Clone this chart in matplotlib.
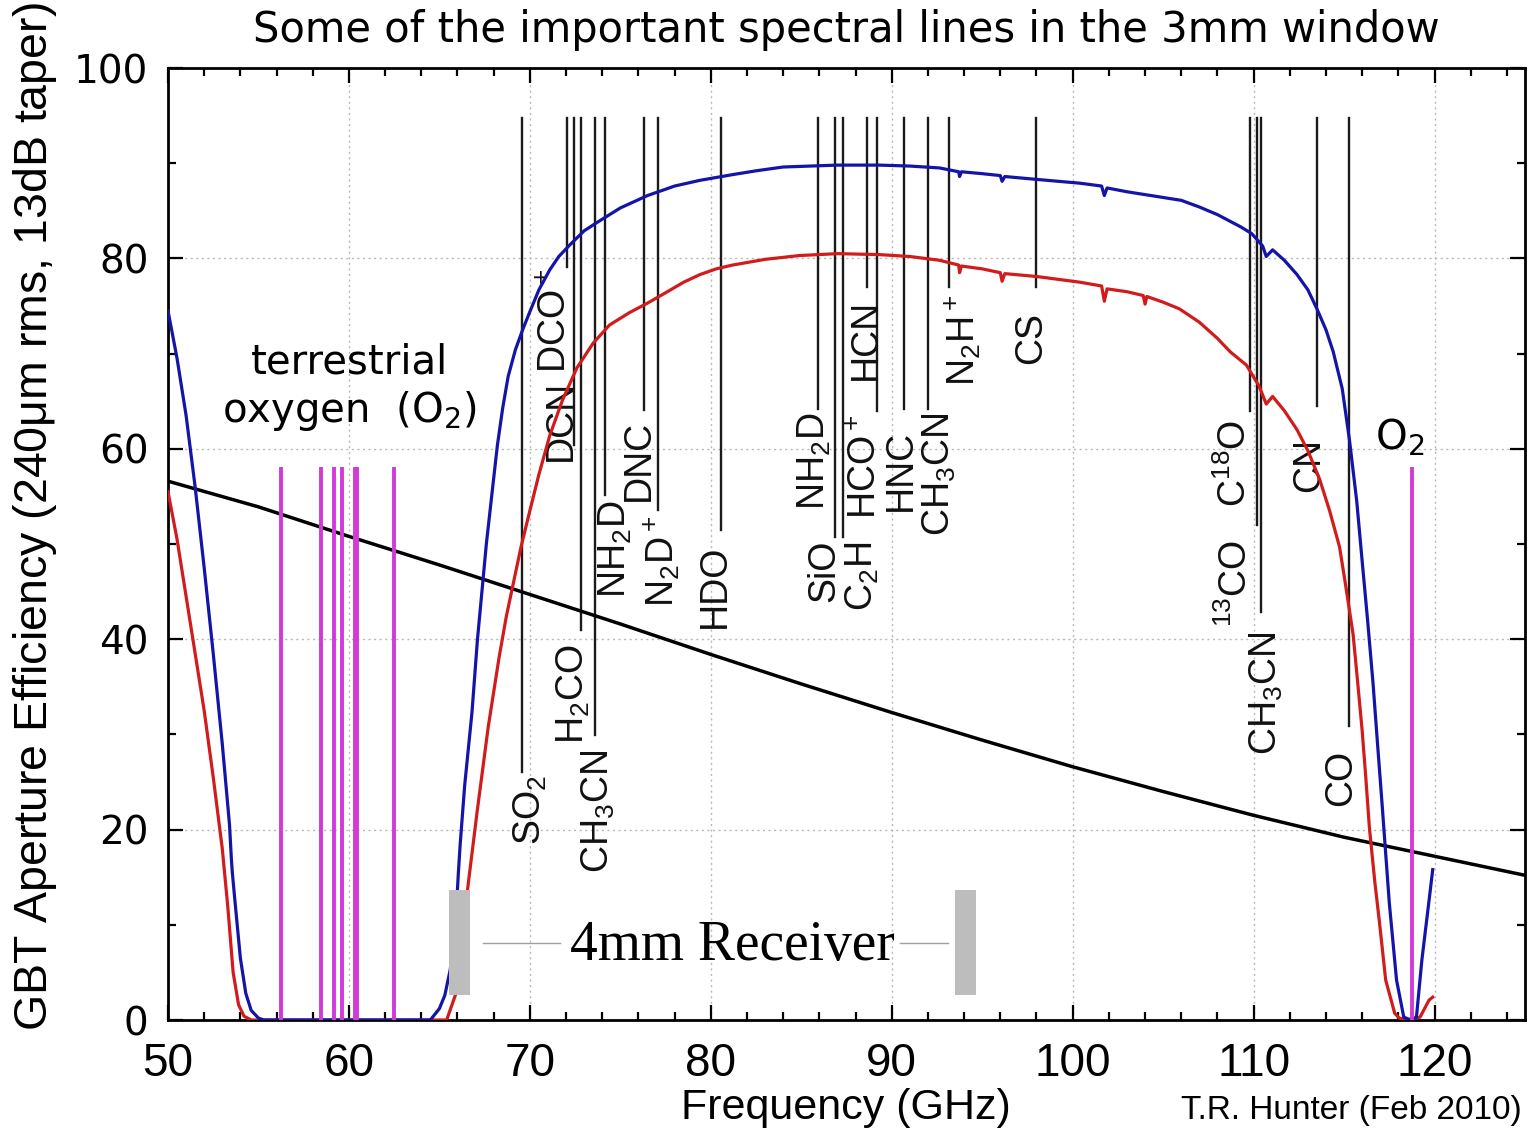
import matplotlib
matplotlib.use("Agg")
import matplotlib.pyplot as plt
from matplotlib.ticker import MultipleLocator
from matplotlib.patches import Rectangle

plt.rcParams["mathtext.default"] = "regular"

# ---------------- data ----------------
# aperture efficiency, blue curve (GHz, %)
blue_freq = [50.0, 50.5, 51.0, 51.5, 52.0, 52.5, 53.0, 53.4, 53.5, 53.55,
             53.7, 54.0, 54.3, 54.6, 55.0, 55.3, 64.5, 65.0, 65.3, 65.6,
             65.9, 66.05, 66.1, 66.15, 66.4, 66.8, 67.1, 67.6, 68.2, 68.5,
             68.8, 69.2, 69.6,
             70.0, 70.5, 71.1, 71.6, 72.2, 73.0, 73.9, 75.0, 76.5, 78.0, 79.4,
             81.2, 82.5, 84.0, 87.0, 89.3,
             91.0, 92.65, 93.7, 93.75, 93.85, 95.0, 96.0, 96.1, 96.25, 98.0,
             100.4, 101.6, 101.75, 101.9, 103.0, 104.0, 105.0, 106.0, 107.0,
             108.0, 108.7, 109.3, 109.9, 110.5, 110.7, 111.05, 111.7, 112.4,
             113.0, 113.5, 114.0, 114.4, 114.9, 115.3, 115.7, 116.0, 116.3,
             116.6, 116.85, 117.1, 117.5, 117.9, 118.3, 118.7, 119.0, 119.3,
             119.7, 119.9]
blue_eff = [74.5, 69.5, 63.5, 56.0, 47.5, 38.5, 29.0, 20.5, 17.0, 15.6,
            12.5, 6.5, 2.8, 1.0, 0.2, 0.0, 0.0, 1.2, 2.6, 5.3,
            10.4, 15.5, 17.0, 18.5, 24.7, 32.3, 39.9, 50.1, 60.3, 64.3,
            67.6, 70.4, 72.5,
            74.4, 76.7, 78.8, 80.2, 81.4, 82.9, 84.0, 85.3, 86.6, 87.6, 88.2,
            88.8, 89.2, 89.6, 89.8, 89.8,
            89.7, 89.5, 89.1, 88.6, 89.1, 88.9, 88.7, 88.1, 88.6, 88.3,
            87.9, 87.6, 86.6, 87.4, 87.0, 86.7, 86.4, 86.1, 85.4,
            84.6, 83.9, 83.3, 82.6, 81.3, 80.2, 80.9, 79.8, 78.3,
            76.7, 74.7, 72.5, 70.2, 66.3, 60.9, 54.5, 48.2, 42.0,
            35.4, 29.0, 22.7, 12.3, 4.2, 0.3, 0.0, 0.3, 6.3,
            12.6, 15.8]

# aperture efficiency, red curve (GHz, %)
red_freq = [50.0, 50.5, 51.0, 51.5, 52.0, 52.5, 53.0, 53.3, 53.6, 53.9,
            54.2, 54.6, 65.4, 65.9, 66.2, 66.6, 67.1, 67.7, 68.3, 68.7, 69.1,
            69.5, 70.0, 70.5, 71.1, 71.8, 72.6, 73.5, 74.4, 75.5, 76.5, 77.6,
            78.5, 79.4, 80.3, 81.2, 83.0, 84.9, 87.0, 89.3,
            91.0, 92.65, 93.7, 93.75, 93.85, 95.0, 96.0, 96.1, 96.25, 98.0,
            100.4, 101.6, 101.75, 101.9, 103.0, 103.9, 104.0, 104.1, 105.0,
            105.9, 107.0, 108.0, 108.7, 109.6, 110.3, 110.7, 111.05, 111.7,
            112.4, 113.0, 113.65, 114.2, 114.75, 115.1, 115.5, 115.75, 116.0,
            116.2, 116.4, 116.7, 116.96, 117.3, 117.8, 118.05, 118.5, 119.2,
            119.7, 119.9]
red_eff = [55.5, 50.5, 44.5, 38.5, 32.5, 25.5, 18.0, 12.0, 5.0, 1.6,
           0.4, 0.0, 0.0, 2.7, 7.8, 14.4, 22.1, 30.8, 38.1, 42.4, 46.0,
           49.6, 53.5, 57.3, 61.4, 65.1, 68.5, 71.1, 73.0, 74.3, 75.3, 76.5,
           77.5, 78.3, 78.9, 79.3, 79.9, 80.3, 80.5, 80.4,
           80.2, 79.8, 79.3, 78.5, 79.2, 78.9, 78.5, 77.6, 78.4, 78.1,
           77.5, 77.1, 75.5, 76.8, 76.5, 76.1, 75.2, 76.0, 75.4,
           74.7, 73.3, 71.6, 70.2, 68.8, 66.6, 64.7, 65.5, 64.0,
           62.0, 59.8, 56.8, 53.5, 49.7, 45.5, 40.5, 35.5, 30.4,
           25.5, 20.2, 14.5, 10.2, 4.2, 0.7, 0.2, 0.0, 0.3,
           2.1, 2.4]

# black efficiency curve (GHz, %)
black_freq = [50, 55, 60, 65, 70, 75, 80, 85, 90, 95, 100, 105, 110, 115, 120, 125]
black_eff = [56.6, 53.9, 50.8, 47.8, 44.7, 41.6, 38.4, 35.3, 32.3, 29.4, 26.6,
             24.0, 21.5, 19.2, 17.2, 15.2]

# molecular lines
line_names = ["SO$_2$", "DCO$^+$", "DCN", "H$_2$CO", "CH$_3$CN", "NH$_2$D",
              "DNC", "N$_2$D$^+$", "HDO", "NH$_2$D", "SiO", "C$_2$H", "HCN",
              "HCO$^+$", "HNC", "CH$_3$CN", "N$_2$H$^+$", "CS", "C$^{18}$O",
              "$^{13}$CO", "CH$_3$CN", "CN", "CO"]
line_freqs = [69.576, 72.039, 72.415, 72.838, 73.590, 74.155, 76.306, 77.109,
              80.578, 85.926, 86.847, 87.317, 88.632, 89.189, 90.664, 91.987,
              93.174, 97.981, 109.782, 110.201, 110.383, 113.491, 115.271]

# oxygen lines
o2_freqs = [56.26, 58.45, 59.16, 59.59, 60.31, 60.43, 62.49, 118.75]

# 4mm receiver band edges
rx_band = [65.52, 93.48]

# axis ticks
x_major = [50, 60, 70, 80, 90, 100, 110, 120]
y_major = [0, 20, 40, 60, 80, 100]

# ---------------- layout (positions of annotations) ----------------
line_top = 94.7
line_end = [26.1, 79.1, 60.4, 41.0, 29.9, 55.1, 64.1, 53.6, 51.5, 64.2, 50.7,
            50.7, 77.0, 64.0, 64.2, 64.2, 77.0, 77.0, 64.0, 52.0, 42.9, 64.5,
            30.9]
label_x = [70.0, 71.44, 71.71, 72.38, 73.81, 74.75, 76.02, 77.29, 80.22, 85.75,
           86.30, 88.40, 88.56, 88.56, 90.50, 92.65, 93.92, 97.68, 109.0,
           109.06, 110.72, 113.09, 114.81]
label_top = [25.7, 79.0, 67.2, 39.4, 28.4, 54.6, 63.0, 53.0, 49.9, 63.8, 50.5,
             50.2, 75.8, 63.6, 62.0, 63.8, 76.2, 74.4, 63.0, 50.4, 40.8, 61.1,
             28.4]
o2_top = 58.1

W, H = 1528, 1131
fig = plt.figure(figsize=(W / 100, H / 100), dpi=100)
ax = fig.add_axes([168 / W, (H - 1020) / H, (1525 - 168) / W, (1020 - 68) / H])

NARROW = ["Liberation Sans Narrow", "Liberation Sans", "DejaVu Sans"]
SANS = ["Liberation Sans", "DejaVu Sans"]
ROUND = ["DejaVu Sans"]

# grid
for xv in x_major[1:]:
    ax.axvline(xv, color="#b8b8b8", lw=1.0, ls=(0, (1.5, 2.5)), zorder=0)
for yv in y_major[1:-1]:
    ax.axhline(yv, color="#b8b8b8", lw=1.0, ls=(0, (1.5, 2.5)), zorder=0)

# molecular lines and their labels
for name, f, e, lx, lt in zip(line_names, line_freqs, line_end, label_x, label_top):
    ax.plot([f, f], [e, line_top], color="#1a1a1a", lw=1.7, zorder=2)
    ax.text(lx, lt, name, rotation=90, ha="center", va="top",
            fontsize=27, family=NARROW, color="#111111", zorder=3)

# curves
ax.plot(black_freq, black_eff, color="black", lw=2.5, zorder=4)
ax.plot(red_freq, red_eff, color="#d01c1c", lw=2.3, zorder=5,
        solid_joinstyle="round")
ax.plot(blue_freq, blue_eff, color="#1414a8", lw=2.3, zorder=6,
        solid_joinstyle="round")

# oxygen lines
for f in o2_freqs:
    ax.plot([f, f], [0, o2_top], color="#d23ad8", lw=2.8, zorder=7,
            solid_capstyle="butt")

ax.text(60.05, 69.1, "terrestrial", ha="center", va="center", fontsize=29,
        family=ROUND, zorder=8)
ax.text(60.0, 64.0, "oxygen  (O$_2$)", ha="center", va="center", fontsize=29,
        family=ROUND, zorder=8)
ax.text(118.07, 61.2, "O$_2$", ha="center", va="center", fontsize=29,
        family=ROUND, zorder=8)

# 4mm receiver band
for x0 in rx_band:
    ax.add_patch(Rectangle((x0, 2.6), 1.16, 11.05, facecolor="#bdbdbd",
                           edgecolor="none", zorder=9))
ax.plot([67.4, 71.66], [8.1, 8.1], color="#a0a0a0", lw=1.0, zorder=9)
ax.plot([90.44, 93.1], [8.1, 8.1], color="#a0a0a0", lw=1.0, zorder=9)
ax.text(81.2, 6.3, "4mm Receiver", ha="center", va="baseline", fontsize=40,
        family=["Liberation Serif", "DejaVu Serif"], zorder=9)

# axes
ax.set_xlim(50, 125)
ax.set_ylim(0, 100)
ax.set_xticks(x_major)
ax.set_yticks(y_major)
ax.xaxis.set_minor_locator(MultipleLocator(2))
ax.yaxis.set_minor_locator(MultipleLocator(10))
ax.tick_params(which="both", direction="in", top=True, right=True, width=1.6)
ax.tick_params(which="major", length=11)
ax.tick_params(which="minor", length=6)
ax.tick_params(axis="x", which="major", pad=16)
ax.tick_params(axis="y", which="major", pad=14)
for lab in ax.get_xticklabels():
    lab.set_family(NARROW)
    lab.set_fontsize(33)
for lab in ax.get_yticklabels():
    lab.set_family(ROUND)
    lab.set_fontsize(28)
for sp in ax.spines.values():
    sp.set_linewidth(2.0)

fig.text(846 / W, 1 - 30 / H, "Some of the important spectral lines in the 3mm window",
         ha="center", va="center", fontsize=30, family=ROUND)
fig.text(846 / W, 1 - 1108 / H, "Frequency (GHz)", ha="center", va="center",
         fontsize=31, family=SANS)
fig.text(1522 / W, 1 - 1110 / H, "T.R. Hunter (Feb 2010)", ha="right",
         va="center", fontsize=24, family=SANS)
fig.text(35 / W, 1 - 517 / H,
         "GBT Aperture Efficiency (240$\\mu$m rms, 13dB taper)",
         rotation=90, ha="center", va="center", fontsize=33.5, family=SANS)

fig.savefig("out.png", dpi=100, facecolor="white")
